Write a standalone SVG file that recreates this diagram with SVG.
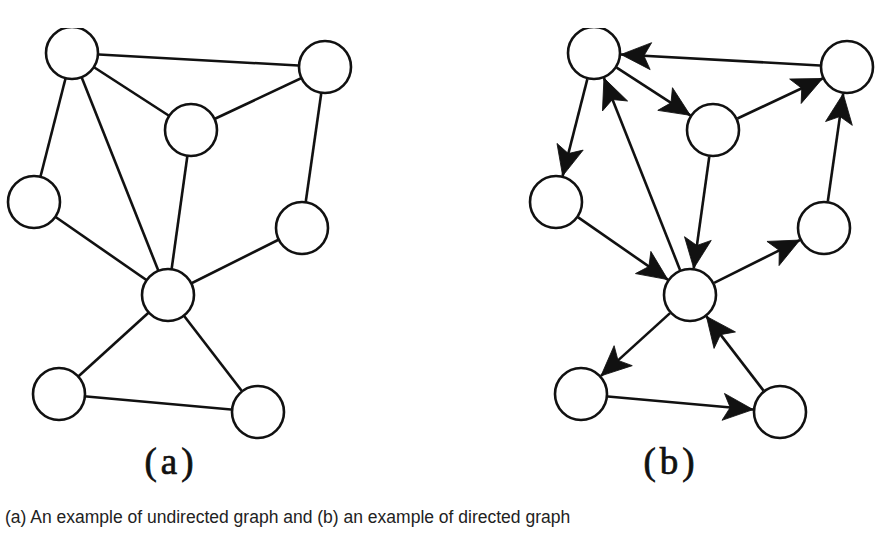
<svg xmlns="http://www.w3.org/2000/svg" width="886" height="553" viewBox="0 0 886 553">
  <style>
    .node { fill: #ffffff; stroke: #111111; stroke-width: 2.6; }
    .edge { stroke: #111111; stroke-width: 2.6; fill: none; }
    .arc { stroke: #111111; stroke-width: 2.6; fill: none; marker-end: url(#arrow); }
    .sub { font-family: "Liberation Serif", "Times New Roman", serif; font-size: 37px; fill: #111111; stroke: #111111; stroke-width: 0.7; text-anchor: middle; letter-spacing: 4px; }
    .caption { font-family: "Liberation Sans", Arial, sans-serif; font-size: 17.5px; fill: #222222; }
  </style>
  <defs>
    <marker id="arrow" markerUnits="userSpaceOnUse" viewBox="-31 -14 32 28" markerWidth="32" markerHeight="28" refX="0" refY="0" orient="auto" overflow="visible">
      <path d="M0,0 L-30,-13.5 L-23,0 L-30,13.5 Z" fill="#111111" stroke="#111111" stroke-width="0.8" stroke-linejoin="miter"/>
    </marker>
    <clipPath id="clipTop">
      <rect x="0" y="28" width="886" height="525"/>
    </clipPath>
  </defs>
  <rect width="886" height="553" fill="#ffffff"/>

  <g id="graph-a" clip-path="url(#clipTop)">
    <g id="edges-a">
      <line class="edge" x1="72" y1="53" x2="325" y2="67"/>
      <line class="edge" x1="72" y1="53" x2="191" y2="130"/>
      <line class="edge" x1="72" y1="53" x2="34" y2="202"/>
      <line class="edge" x1="72" y1="53" x2="168" y2="295"/>
      <line class="edge" x1="191" y1="130" x2="325" y2="67"/>
      <line class="edge" x1="191" y1="130" x2="168" y2="295"/>
      <line class="edge" x1="34" y1="202" x2="168" y2="295"/>
      <line class="edge" x1="325" y1="67" x2="302" y2="228"/>
      <line class="edge" x1="302" y1="228" x2="168" y2="295"/>
      <line class="edge" x1="168" y1="295" x2="59" y2="394"/>
      <line class="edge" x1="168" y1="295" x2="258" y2="412"/>
      <line class="edge" x1="59" y1="394" x2="258" y2="412"/>
    </g>
    <g id="a-n1"><circle class="node" cx="72" cy="53" r="26"/></g>
    <g id="a-n2"><circle class="node" cx="325" cy="67" r="26"/></g>
    <g id="a-n3"><circle class="node" cx="191" cy="130" r="26"/></g>
    <g id="a-n4"><circle class="node" cx="34" cy="202" r="26"/></g>
    <g id="a-n5"><circle class="node" cx="302" cy="228" r="26"/></g>
    <g id="a-n6"><circle class="node" cx="168" cy="295" r="26"/></g>
    <g id="a-n7"><circle class="node" cx="59" cy="394" r="26"/></g>
    <g id="a-n8"><circle class="node" cx="258" cy="412" r="26"/></g>
  </g>

  <g id="graph-b" clip-path="url(#clipTop)">
    <g id="edges-b">
      <line class="arc" x1="820.04" y1="65.51" x2="620.96" y2="54.49"/>
      <line class="arc" x1="616.67" y1="67.67" x2="690.33" y2="115.33"/>
      <line class="arc" x1="737.43" y1="118.51" x2="822.57" y2="78.49"/>
      <line class="arc" x1="587.33" y1="79.16" x2="562.67" y2="175.84"/>
      <line class="arc" x1="680.04" y1="269.90" x2="603.96" y2="78.10"/>
      <line class="arc" x1="578.18" y1="217.40" x2="667.82" y2="279.60"/>
      <line class="arc" x1="709.27" y1="156.74" x2="693.73" y2="268.26"/>
      <line class="arc" x1="714.15" y1="282.93" x2="799.85" y2="240.07"/>
      <line class="arc" x1="827.82" y1="201.27" x2="843.18" y2="93.73"/>
      <line class="arc" x1="670.01" y1="313.15" x2="600.99" y2="375.85"/>
      <line class="arc" x1="607.89" y1="396.43" x2="753.11" y2="409.57"/>
      <line class="arc" x1="763.54" y1="390.60" x2="706.46" y2="316.40"/>
    </g>
    <g id="b-n1"><circle class="node" cx="594" cy="53" r="26"/></g>
    <g id="b-n2"><circle class="node" cx="847" cy="67" r="26"/></g>
    <g id="b-n3"><circle class="node" cx="713" cy="130" r="26"/></g>
    <g id="b-n4"><circle class="node" cx="556" cy="202" r="26"/></g>
    <g id="b-n5"><circle class="node" cx="824" cy="228" r="26"/></g>
    <g id="b-n6"><circle class="node" cx="690" cy="295" r="26"/></g>
    <g id="b-n7"><circle class="node" cx="581" cy="394" r="26"/></g>
    <g id="b-n8"><circle class="node" cx="780" cy="412" r="26"/></g>
  </g>

  <text class="sub" x="171" y="474">(a)</text>
  <text class="sub" x="671" y="474">(b)</text>
  <text class="caption" x="5" y="523">(a) An example of undirected graph and (b) an example of directed graph</text>
</svg>
